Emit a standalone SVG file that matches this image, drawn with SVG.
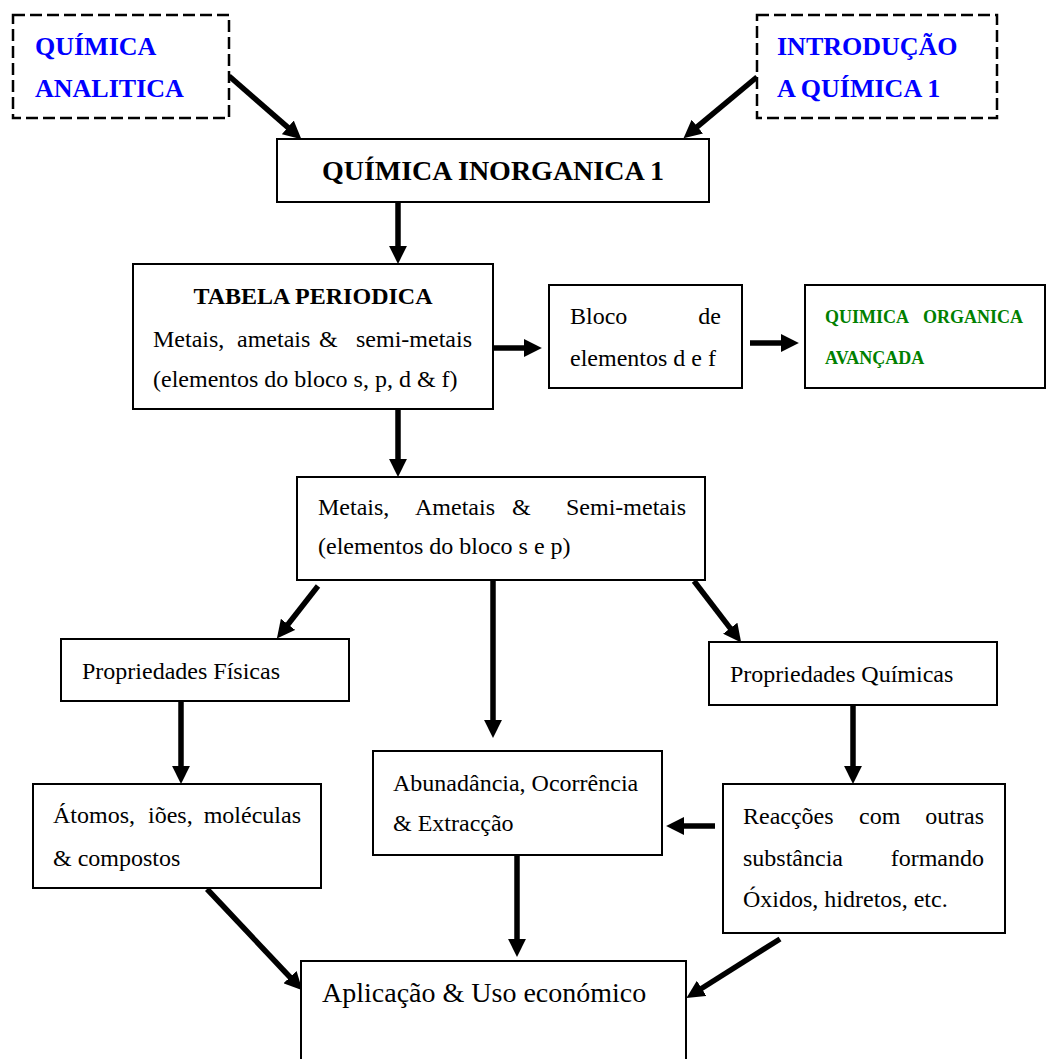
<svg xmlns="http://www.w3.org/2000/svg" width="1049" height="1059" viewBox="0 0 1049 1059">
<style>
text{font-family:"Liberation Serif","Times New Roman",serif;font-size:24px;fill:#000}
.box{fill:#fff;stroke:#000;stroke-width:2}
.dash{fill:#fff;stroke:#000;stroke-width:2.5;stroke-dasharray:12 5}
.blue{fill:#0000ff;font-weight:bold;font-size:26px}
.green{fill:#008000;font-weight:bold;font-size:18px}
.b{font-weight:bold}
.end{text-anchor:end}
.mid{text-anchor:middle}
.arr{stroke:#000;stroke-width:5.5;fill:none;marker-end:url(#ah)}
</style>
<defs>
<marker id="ah" markerUnits="userSpaceOnUse" markerWidth="18" markerHeight="18" viewBox="0 0 16 16" refX="1" refY="8" orient="auto">
<path d="M0,0 L16,8 L0,16 z" fill="#000"/>
</marker>
</defs>
<g id="connectors">
<line class="arr" x1="229" y1="76" x2="288.7" y2="128.1"/>
<line class="arr" x1="757" y1="77" x2="696.5" y2="127.4"/>
<line class="arr" x1="398" y1="202" x2="398" y2="247"/>
<line class="arr" x1="493" y1="348" x2="525" y2="348"/>
<line class="arr" x1="750" y1="343" x2="782" y2="343"/>
<line class="arr" x1="398" y1="410" x2="398" y2="460"/>
<line class="arr" x1="318" y1="586" x2="287.3" y2="625.2"/>
<line class="arr" x1="493" y1="580" x2="493" y2="721"/>
<line class="arr" x1="694" y1="581" x2="730.9" y2="629.1"/>
<line class="arr" x1="181" y1="701" x2="181" y2="767"/>
<line class="arr" x1="853" y1="705" x2="853" y2="767"/>
<line class="arr" x1="715" y1="826" x2="683" y2="826"/>
<line class="arr" x1="207" y1="889" x2="290.8" y2="978"/>
<line class="arr" x1="517" y1="855" x2="517" y2="940"/>
<line class="arr" x1="780" y1="939" x2="700.7" y2="989"/>
</g>
<g id="quimica-analitica">
<rect class="dash" x="13" y="15" width="216" height="103"/>
<text class="blue" x="35" y="55">QUÍMICA</text>
<text class="blue" x="35" y="97">ANALITICA</text>
</g>
<g id="introducao">
<rect class="dash" x="757" y="15" width="240" height="103"/>
<text class="blue" x="777" y="55">INTRODUÇÃO</text>
<text class="blue" x="777" y="97">A QUÍMICA 1</text>
</g>
<g id="quimica-inorganica">
<rect class="box" x="277" y="139" width="432" height="63"/>
<text class="b mid" x="493" y="180" style="font-size:28px">QUÍMICA INORGANICA 1</text>
</g>
<g id="tabela">
<rect class="box" x="133" y="264" width="360" height="145"/>
<text class="b mid" x="313" y="304">TABELA PERIODICA</text>
<text x="153" y="347">Metais,</text>
<text x="237" y="347">ametais</text>
<text x="319" y="347">&amp;</text>
<text class="end" x="472" y="347">semi-metais</text>
<text x="153" y="387">(elementos do bloco s, p, d &amp; f)</text>
</g>
<g id="bloco">
<rect class="box" x="549" y="285" width="193" height="103"/>
<text x="570" y="324">Bloco</text>
<text class="end" x="721" y="324">de</text>
<text x="570" y="366">elementos d e f</text>
</g>
<g id="organica">
<rect class="box" x="805" y="285" width="240" height="103"/>
<text class="green" x="825" y="323">QUIMICA</text>
<text class="green end" x="1023" y="323">ORGANICA</text>
<text class="green" x="825" y="364">AVANÇADA</text>
</g>
<g id="metais">
<rect class="box" x="297" y="477" width="408" height="103"/>
<text x="318" y="515">Metais,</text>
<text x="415" y="515">Ametais</text>
<text x="512" y="515">&amp;</text>
<text class="end" x="686" y="515">Semi-metais</text>
<text x="318" y="554">(elementos do bloco s e p)</text>
</g>
<g id="prop-fisicas">
<rect class="box" x="61" y="639" width="288" height="62"/>
<text x="82" y="679">Propriedades Físicas</text>
</g>
<g id="prop-quimicas">
<rect class="box" x="709" y="642" width="288" height="63"/>
<text x="730" y="682">Propriedades Químicas</text>
</g>
<g id="atomos">
<rect class="box" x="33" y="784" width="288" height="104"/>
<text x="53" y="823">Átomos,</text>
<text x="148" y="823">iões,</text>
<text class="end" x="301" y="823">moléculas</text>
<text x="53" y="866">&amp; compostos</text>
</g>
<g id="abundancia">
<rect class="box" x="373" y="751" width="289" height="104"/>
<text x="393" y="791">Abunadância, Ocorrência</text>
<text x="393" y="831">&amp; Extracção</text>
</g>
<g id="reaccoes">
<rect class="box" x="723" y="784" width="282" height="149"/>
<text x="743" y="824">Reacções</text>
<text x="859" y="824">com</text>
<text class="end" x="984" y="824">outras</text>
<text x="743" y="866">substância</text>
<text class="end" x="984" y="866">formando</text>
<text x="743" y="907">Óxidos, hidretos, etc.</text>
</g>
<g id="aplicacao">
<rect class="box" x="301" y="961" width="385" height="120"/>
<text x="322" y="1002" style="font-size:28px">Aplicação &amp; Uso económico</text>
</g>
</svg>
